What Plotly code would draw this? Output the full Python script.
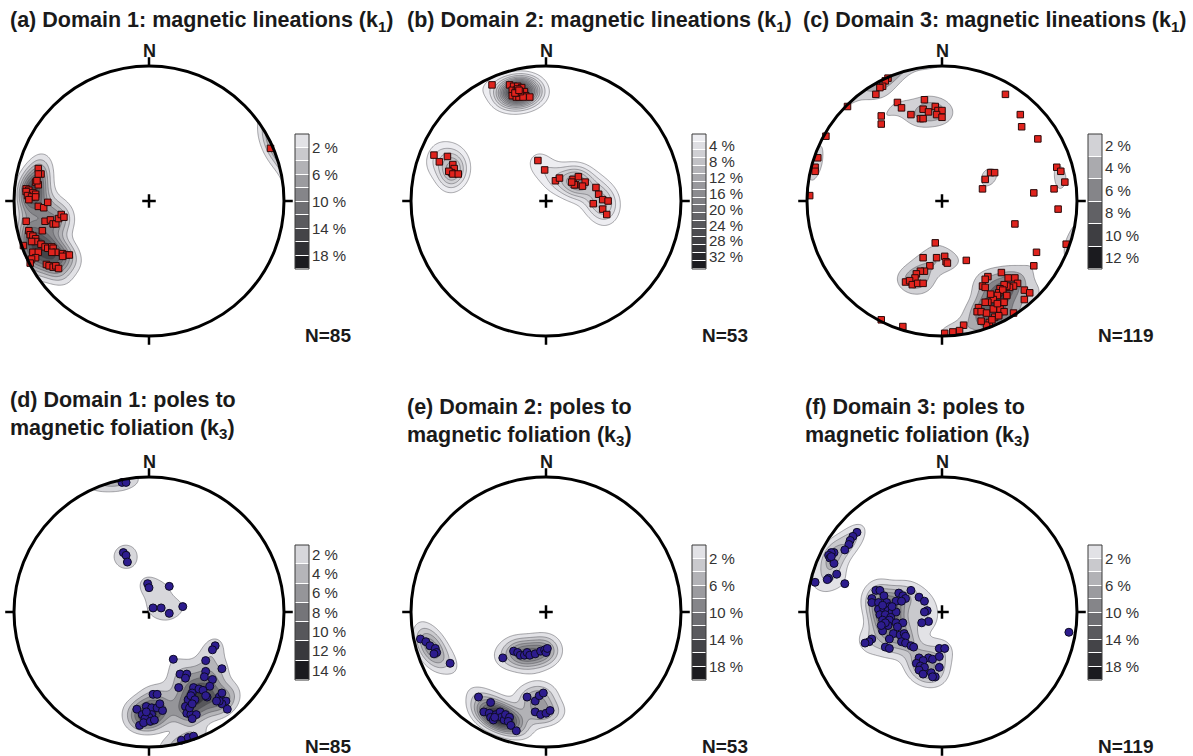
import numpy as np
import plotly.graph_objects as go

# ---------------- data: equal-area net positions (East, North) in % of net radius ----------------
pts_a = [(-82,24),(-80,20),(-82,20),(-84,14),(-82,12),(-83,15),(-91,9),(-89,8),(-91,7),(-86,6),(-84,5),
         (-90,4),(-87,3),(-84,3),(-89,1),(-82,-4),(-78,-5),(-75,-1),(-91,-15),(-77,-15),(-73,-14),(-71,-17),
         (-69,-17),(-67,-13),(-65,-10),(-63,-12),(-79,-22),(-89,-22),(-88,-25),(-86,-26),(-84,-28),(-84,-30),
         (-87,-30),(-93,-33),(-80,-32),(-77,-34),(-75,-35),(-72,-34),(-71,-35),(-69,-38),(-72,-38),(-86,-38),
         (-82,-38),(-84,-42),(-87,-43),(-88,-46),(-64,-39),(-61,-40),(-59,-40),(-64,-41),(-76,-47),(-74,-48),
         (-71,-49),(-69,-48),(-67,-50),(90,39)]
pts_b = [(-40,86),(-27,86),(-24,85),(-21,85),(-18,84),(-25,82),(-22,82),(-20,80),(-16,81),(-25,78),(-22,77),
         (-20,77),(-15,78),(-12,77),(-17,77),(-21,83),(-22,80),(-19,81),(-23,80),(-20,82),
         (-83,34),(-73,33),(-79,29),(-69,27),(-68,24),(-70,21),
         (-72,22),(-69,20),(-65,20),(-6,30),(-1,23),(7,15),(10,17),(20,16),(24,18),(29,14),(27,11),(22,12),
         (21,12),(19,14),(37,10),(39,5),(35,-2),(42,1),(46,0),(42,-6),(45,-10)]
pts_c = [(-40,91),(-42,89),(-44,85),(-46,84),(-49,79),(-70,70),(-86,48),(-45,63),(-45,57),(-33,73),(-30,69),
         (-13,75),(-23,64),(-14,68),(-10,66),(-5,70),(-3,67),(0,67),(-4,64),(0,62),(-16,61),(-14,61),
         (-92,32),(-94,25),(-94,22),(-98,4),(47,79),(58,64),(59,55),(71,46),(36,21),(39,21),(32,16),(30,9),
         (85,25),(88,22),(91,14),(83,9),(68,6),(86,-6),(54,-17),(92,-32),(70,-38),(68,-48),
         (-5,-31),(-14,-42),(-4,-42),(2,-41),(3,-45),(4,-46),(18,-44),(-9,-48),(-13,-52),(-16,-52),(-19,-54),
         (-20,-57),(-27,-60),(-24,-59),(-22,-62),(-18,-61),(-14,-61),
         (44,-53),(34,-56),(32,-58),(30,-63),(32,-64),(49,-57),(54,-57),(56,-61),(53,-63),(50,-64),(48,-63),
         (46,-62),(43,-65),(42,-68),(45,-66),(41,-70),(38,-73),(36,-69),(34,-75),(27,-79),(26,-82),(29,-82),
         (33,-83),(38,-80),(43,-80),(46,-82),(53,-83),(61,-66),(65,-68),(61,-73),(39,-86),(42,-85),(35,-90),
         (33,-92),(29,-89),(46,-75),(32,-75),(41,-76),(48,-70),(37,-88),
         (16,-92),(13,-96),(8,-97),(2,-98),(-29,-93),(-45,-88)]
pts_d = [(-20,96),(-17,96),(-19,44),(-17,42),(-16,37),(-1,21),(0,18),(15,19),(3,3),(9,3),(15,-1),(25,4),
         (49,-25),(47,-28),(18,-35),(42,-36),(54,-42),(23,-46),(28,-46),(27,-49),(42,-44),(41,-48),(47,-50),
         (22,-56),(33,-56),(37,-57),(45,-55),(40,-58),(43,-63),(52,-63),(54,-60),(57,-66),(54,-68),(52,-66),
         (50,-66),(58,-72),(32,-60),(29,-65),(31,-62),(34,-65),(27,-70),(28,-75),(31,-76),(35,-76),(32,-79),
         (30,-71),(32,-68),(42,-62),
         (3,-61),(6,-61),(-9,-72),(-5,-76),(-2,-70),(2,-71),(6,-71),(10,-73),(2,-76),(0,-78),(-3,-79),
         (-7,-84),(-4,-82),(1,-81),(4,-80),(-2,-74),(8,-68),(24,-95),(29,-93),(33,-92)]
pts_e = [(-93,-20),(-89,-22),(-86,-25),(-82,-27),(-81,-30),(-83,-31),(-71,-38),
         (-32,-34),(-24,-29),(-21,-30),(-19,-32),(-16,-32),(-14,-30),(-12,-32),(-8,-31),(-4,-29),(-1,-28),
         (0,-30),(1,-27),
         (-14,-63),(-8,-66),(-5,-62),(-2,-60),(-8,-74),(-4,-76),(0,-75),(3,-73),
         (-50,-63),(-41,-67),(-46,-74),(-42,-75),(-41,-78),(-39,-80),(-37,-76),(-34,-74),(-33,-78),(-31,-80),
         (-30,-76),(-27,-78),(-28,-81),(-26,-84),(-22,-88),(-38,-78)]
pts_f = [(-63,59),(-66,56),(-68,53),(-69,50),(-72,46),(-80,44),(-82,44),(-84,42),(-83,40),(-80,36),(-78,28),
         (-84,25),(-85,24),(-94,22),(-72,21),(-82,41),
         (-49,16),(-46,16),(-43,12),(-52,10),(-52,7),(-47,7),(-41,7),(-39,4),(-34,8),(-32,14),(-29,12),
         (-27,10),(-30,8),(-23,16),(-17,11),(-13,8),(-11,1),(-13,0),(-10,-7),(-15,-8),
         (-47,2),(-43,2),(-40,1),(-37,0),(-34,0),(-46,-2),(-42,-2),(-38,-4),(-44,-6),(-39,-6),(-34,-8),
         (-29,-8),(-40,-10),(-44,-14),(-36,-16),(-31,-17),(-28,-16),(-27,-18),(-44,5),(-37,4),(-42,-8),
         (-33,-11),(-45,-10),
         (-52,-20),(-54,-22),(-57,-23),(-39,-20),(-42,-26),(-39,-27),(-30,-22),(-27,-23),(-23,-25),(-21,-26),
         (-2,-27),(2,-27),(-10,-34),(-7,-35),(-2,-33),(-17,-34),(-14,-36),(-19,-38),(-16,-40),(-13,-41),
         (-17,-43),(-14,-46),(-8,-45),(-5,-48),(-7,-48),(-2,-41),
         (94,-15)]

titles = ["(a) Domain 1: magnetic lineations (k<sub>1</sub>)",
          "(b) Domain 2: magnetic lineations (k<sub>1</sub>)",
          "(c) Domain 3: magnetic lineations (k<sub>1</sub>)",
          "(d) Domain 1: poles to<br>magnetic foliation (k<sub>3</sub>)",
          "(e) Domain 2: poles to<br>magnetic foliation (k<sub>3</sub>)",
          "(f) Domain 3: poles to<br>magnetic foliation (k<sub>3</sub>)"]
n_labels = ["N=85", "N=53", "N=119", "N=85", "N=53", "N=119"]

# colour-legend band edges (%) and labelled values (%)
cb_edges = [list(range(0, 21, 2)), list(range(1, 36, 2)), list(range(1, 14, 2)),
            list(range(1, 16, 2)), list(range(0, 21, 2)), list(range(0, 21, 2))]
cb_labels = [[2, 6, 10, 14, 18], [4, 8, 12, 16, 20, 24, 28, 32], [2, 4, 6, 8, 10, 12],
             [2, 4, 6, 8, 10, 12, 14], [2, 6, 10, 14, 18], [2, 6, 10, 14, 18]]
CONTOUR_STEP = 2.0      # % per 1% area
KAPPA = 90.0            # kernel concentration for density estimate

# ---------------- layout geometry (pixels) ----------------
FW, FH = 1193, 756
R = 135.0
CENTERS = [(149, 201), (546, 201), (942, 201), (149, 612), (546, 612), (942, 612)]
FONT = "Liberation Sans, Arial, sans-serif"


def px(x):
    return x / FW


def py(y):
    return 1 - y / FH


def band_colors(n):
    out = []
    for j in range(n):
        t = (j + 1) / n
        v = 255 - 228 * t ** 0.9
        out.append("rgb(%d,%d,%d)" % (round(v), round(v), min(255, round(v + 4))))
    return out


def net_vectors(e, n):
    r = np.hypot(e, n)
    theta = 2 * np.arcsin(np.clip(r, 0, 1) / np.sqrt(2))
    s = np.sin(theta)
    safe = np.where(r > 0, r, 1)
    ux = np.where(r > 0, e / safe, 0.0)
    uy = np.where(r > 0, n / safe, 0.0)
    return np.stack([s * ux, s * uy, -np.cos(theta)], axis=-1)


def density(e, n, gx, gy):
    P = net_vectors(np.asarray(e, float), np.asarray(n, float))
    G = net_vectors(gx.ravel(), gy.ravel())
    c = np.abs(G @ P.T)
    d = np.exp(KAPPA * (c - 1)).sum(axis=1) * KAPPA / len(e)
    d = d.reshape(gx.shape)
    d[np.hypot(gx, gy) > 1.0] = 0.0
    return d


g = np.linspace(-1.02, 1.02, 231)
GX, GY = np.meshgrid(g, g)

fig = go.Figure()
layout = dict(width=FW, height=FH, margin=dict(l=0, r=0, t=0, b=0), paper_bgcolor="white",
              plot_bgcolor="white", showlegend=False, font=dict(family=FONT, color="#1a1a1a"))
shapes, annotations = [], []
all_pts = [pts_a, pts_b, pts_c, pts_d, pts_e, pts_f]

for i, pts in enumerate(all_pts):
    cx, cy = CENTERS[i]
    e = np.array([p[0] for p in pts], float) / 100.0
    n = np.array([p[1] for p in pts], float) / 100.0
    ax_net = 2 * i + 1
    ax_cb = 2 * i + 2
    xn = "x" if ax_net == 1 else "x%d" % ax_net
    yn = "y" if ax_net == 1 else "y%d" % ax_net
    xc, yc = "x%d" % ax_cb, "y%d" % ax_cb

    # net axes
    x0p, x1p = max(0, cx - 148), min(FW, cx + 148)
    y0p, y1p = max(0, cy - 148), min(FH, cy + 148)
    layout["xaxis" if ax_net == 1 else "xaxis%d" % ax_net] = dict(
        domain=[px(x0p), px(x1p)], range=[(x0p - cx) / R, (x1p - cx) / R], visible=False,
        fixedrange=True, anchor=yn)
    layout["yaxis" if ax_net == 1 else "yaxis%d" % ax_net] = dict(
        domain=[py(y1p), py(y0p)], range=[(cy - y1p) / R, (cy - y0p) / R], visible=False,
        fixedrange=True, anchor=xn)

    edges = cb_edges[i]
    nb = len(edges) - 1
    cols = band_colors(nb)

    # density contours
    D = density(e, n, GX, GY)
    cs = [[0.0, "rgba(255,255,255,0)"]] + [[(j + 1) / nb, cols[j]] for j in range(nb)]
    fig.add_trace(go.Contour(
        x=g, y=g, z=D, xaxis=xn, yaxis=yn, showscale=False, hoverinfo="skip",
        contours=dict(start=CONTOUR_STEP, end=CONTOUR_STEP * nb, size=CONTOUR_STEP, coloring="fill",
                      showlines=True),
        line=dict(color="rgba(70,70,75,0.75)", width=0.6, smoothing=1.0),
        colorscale=cs))

    # data points
    if i < 3:
        mk = dict(symbol="square", size=6.5, color="#e0231d", line=dict(color="#2a0a0a", width=1))
    else:
        mk = dict(symbol="circle", size=8, color="#2d1c8e", line=dict(color="#0d0b25", width=1))
    fig.add_trace(go.Scatter(x=e, y=n, mode="markers", marker=mk, xaxis=xn, yaxis=yn,
                             hoverinfo="skip", cliponaxis=False))

    # primitive circle, ticks, centre cross
    shapes.append(dict(type="circle", xref=xn, yref=yn, x0=-1, y0=-1, x1=1, y1=1,
                       line=dict(color="black", width=3), layer="above"))
    tl = 0.065
    for (ax0, ay0, ax1, ay1) in [(0, 1, 0, 1 + tl), (0, -1, 0, -1 - tl), (1, 0, 1 + tl, 0), (-1, 0, -1 - tl, 0)]:
        shapes.append(dict(type="line", xref=xn, yref=yn, x0=ax0, y0=ay0, x1=ax1, y1=ay1,
                           line=dict(color="black", width=2.5), layer="above"))
    pc = 0.05
    shapes.append(dict(type="line", xref=xn, yref=yn, x0=-pc, y0=0, x1=pc, y1=0,
                       line=dict(color="black", width=2.5), layer="below"))
    shapes.append(dict(type="line", xref=xn, yref=yn, x0=0, y0=-pc, x1=0, y1=pc,
                       line=dict(color="black", width=2.5), layer="below"))

    # colour legend as a banded heatmap on its own axes
    bx0 = cx + 146
    by0 = cy - 67
    by1 = cy + 68
    layout["xaxis%d" % ax_cb] = dict(domain=[px(bx0), px(bx0 + 14)], range=[-0.5, 0.5],
                                     visible=False, fixedrange=True, anchor=yc)
    layout["yaxis%d" % ax_cb] = dict(domain=[py(by1), py(by0)], range=[edges[-1], edges[0]],
                                     side="right", anchor=xc, fixedrange=True, showgrid=False,
                                     zeroline=False, showline=False, ticks="",
                                     tickvals=cb_labels[i], ticktext=["%d %%" % v for v in cb_labels[i]],
                                     tickfont=dict(size=15, color="#333333", family=FONT),
                                     ticklabelstandoff=2)
    centers = [(edges[j] + edges[j + 1]) / 2 for j in range(nb)]
    hcs = [[j / (nb - 1), cols[j]] for j in range(nb)]
    fig.add_trace(go.Heatmap(z=[[j] for j in range(nb)], x=[0], y=centers, xaxis=xc, yaxis=yc,
                             colorscale=hcs, zmin=0, zmax=nb - 1, showscale=False, ygap=1,
                             hoverinfo="skip"))
    shapes.append(dict(type="rect", xref="x%d domain" % ax_cb, yref="y%d domain" % ax_cb,
                       x0=0, x1=1, y0=0, y1=1, fillcolor="#3a3a3a", line=dict(width=0), layer="below"))
    shapes.append(dict(type="rect", xref="x%d domain" % ax_cb, yref="y%d domain" % ax_cb,
                       x0=0, x1=1, y0=0, y1=1, line=dict(color="#3a3a3a", width=1), layer="above"))

    # texts
    row_off = 0 if i < 3 else 411
    annotations.append(dict(text="<b>N</b>", x=px(cx), y=py(51 + row_off), xref="paper",
                            yref="paper", showarrow=False, xanchor="center", yanchor="middle",
                            font=dict(size=18, family=FONT, color="#1a1a1a")))
    annotations.append(dict(text="<b>%s</b>" % n_labels[i], x=px(cx + 154), y=py(335 + row_off),
                            xref="paper", yref="paper", showarrow=False, xanchor="left",
                            yanchor="middle", font=dict(size=19, family=FONT, color="#1a1a1a")))
    tx = [8, 405, 801, 8, 405, 803][i]
    ty = [21, 21, 21, 415, 422, 421.5][i]
    annotations.append(dict(text="<b>%s</b>" % titles[i].replace("<br>", "</b><br><b>"),
                            x=px(tx), y=py(ty), xref="paper", yref="paper", showarrow=False,
                            xanchor="left", yanchor="middle", align="left",
                            font=dict(size=21.5, family=FONT, color="#1a1a1a")))

layout["shapes"] = shapes
layout["annotations"] = annotations
fig.update_layout(**layout)
fig.write_html("out.html", config={"displayModeBar": False, "staticPlot": True},
               post_script="document.body.style.margin='0px';")
